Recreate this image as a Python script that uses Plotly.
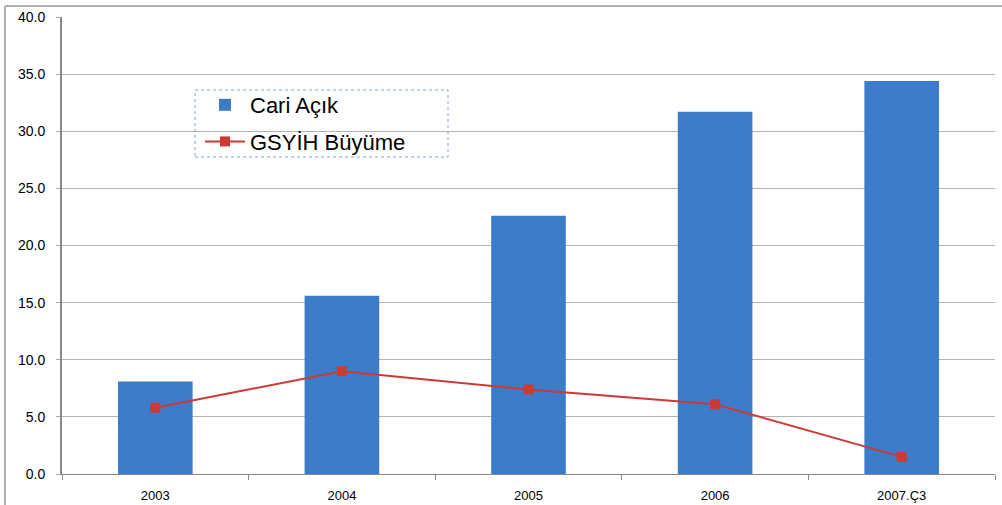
import plotly.graph_objects as go

categories = ["2003", "2004", "2005", "2006", "2007.Ç3"]
cari_acik = [8.1, 15.6, 22.6, 31.7, 34.4]
gsyih_buyume = [5.8, 9.0, 7.4, 6.1, 1.5]

W, H = 1002, 505
L, R, T, B = 62, 7, 17, 31
pw, ph = W - L - R, H - T - B

def px(x):
    return (x - L) / pw

def py(y):
    return (H - B - y) / ph

fig = go.Figure()
fig.add_trace(go.Bar(
    x=categories, y=cari_acik, name="Cari Açık", legendgroup="a",
    marker=dict(color="#3D7CC8", line=dict(width=0)),
))
fig.add_trace(go.Scatter(
    x=categories, y=gsyih_buyume, name="GSYİH Büyüme", legendgroup="b",
    mode="lines+markers",
    line=dict(color="#CC3A35", width=2),
    marker=dict(symbol="square", size=10, color="#CC3A35"),
))

fig.update_layout(
    width=W, height=H,
    margin=dict(l=L, r=R, t=T, b=B, autoexpand=False),
    paper_bgcolor="white", plot_bgcolor="white",
    bargap=0.6,
    showlegend=True,
    legend=dict(
        x=px(200), y=py(84), xanchor="left", yanchor="top",
        bgcolor="rgba(255,255,255,0)", borderwidth=0,
        font=dict(family="Liberation Sans, Arial", size=22, color="black"),
        tracegroupgap=5, itemwidth=40,
    ),
    font=dict(family="Liberation Sans, Arial", color="black"),
    xaxis=dict(
        automargin=False,
        showline=True, linecolor="#888888", linewidth=1,
        ticks="outside", tickson="boundaries", ticklen=5, tickcolor="#888888",
        tickfont=dict(size=13), showgrid=False, ticklabelstandoff=9,
    ),
    yaxis=dict(
        automargin=False,
        range=[0, 40], dtick=5, tickformat=".1f",
        showline=True, linecolor="#888888", linewidth=2,
        ticks="outside", ticklen=4, tickcolor="#AAAAAA",
        gridcolor="#B4B4B4", gridwidth=1,
        tickfont=dict(size=14), zeroline=False, ticklabelstandoff=8,
    ),
    shapes=[
        dict(type="rect", xref="paper", yref="paper",
             x0=px(195), x1=px(448), y0=py(157), y1=py(90),
             line=dict(color="#7FA6D8", width=1, dash="dot"), layer="above"),
        dict(type="line", xref="paper", yref="paper",
             x0=px(5), x1=px(1002), y0=py(6), y1=py(6),
             line=dict(color="#B0B0B0", width=2)),
        dict(type="line", xref="paper", yref="paper",
             x0=px(5), x1=px(5), y0=py(6), y1=py(505),
             line=dict(color="#B0B0B0", width=2)),
    ],
)

js = (
    "document.documentElement.style.margin='0px';"
    "document.body.style.margin='0px';"
    "document.body.style.padding='0px';"
    "document.documentElement.style.overflow='hidden';"
    "document.body.style.overflow='hidden';"
)
fig.write_html("out.html", config={"displayModeBar": False}, post_script=js)
